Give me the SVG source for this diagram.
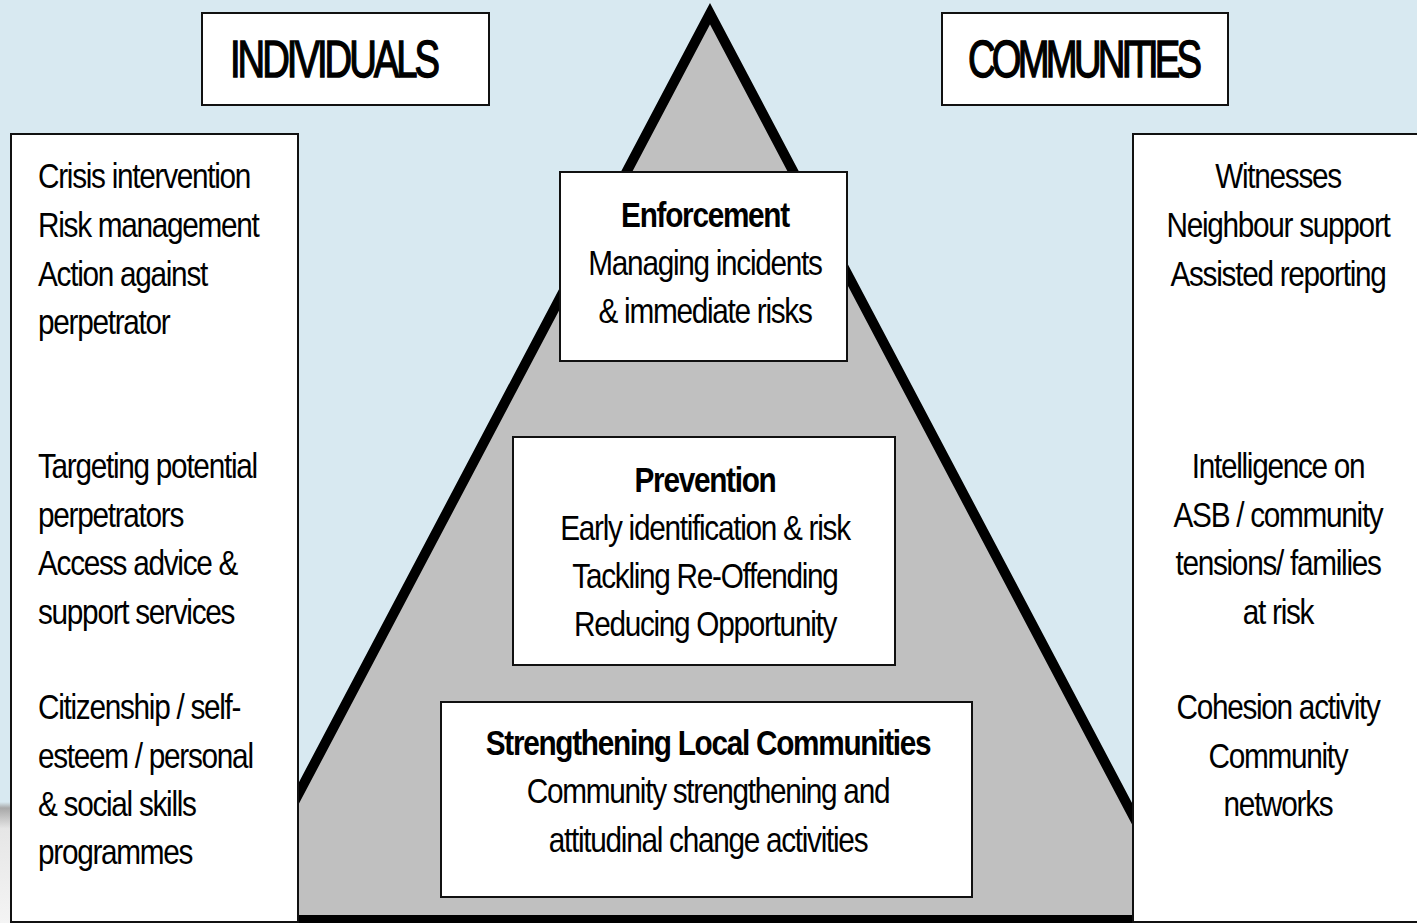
<svg xmlns="http://www.w3.org/2000/svg" width="1417" height="923" viewBox="0 0 1417 923">
  <defs>
    <linearGradient id="edgeSmear" x1="0" y1="0" x2="0" y2="1">
      <stop offset="0" stop-color="#d8e9f1"/>
      <stop offset="0.05" stop-color="#a8a8a8"/>
      <stop offset="0.22" stop-color="#e6e6e6"/>
      <stop offset="1" stop-color="#f4f4f4"/>
    </linearGradient>
    <style>
      .box { fill: #ffffff; stroke: #111111; stroke-width: 2; }
      .txt { font-family: "Liberation Sans", Arial, sans-serif; font-size: 35px; fill: #000000; letter-spacing: -1.5px; }
      .bold { font-weight: bold; }
      .mid { text-anchor: middle; }
      .title { font-family: "Liberation Sans", Arial, sans-serif; font-size: 51px; fill: #000000; stroke: #000000; stroke-width: 1.4px; }
    </style>
  </defs>

  <!-- backdrop -->
  <rect x="0" y="0" width="1417" height="923" fill="#d8e9f1"/>
  <rect x="0" y="802" width="12" height="121" fill="url(#edgeSmear)"/>

  <!-- pyramid -->
  <g id="pyramid">
    <polygon points="710,13.7 231.9,920 1188.1,920" fill="#c0c0c0" stroke="#000000" stroke-width="10" stroke-linejoin="miter" stroke-miterlimit="10"/>
  </g>

  <!-- connectors: none drawn in this figure -->
  <g id="connectors"></g>

  <!-- column headings (condensed via horizontal scale) -->
  <g id="individuals-title">
    <rect class="box" x="202" y="13" width="287" height="92"/>
    <g transform="translate(230 0) scale(0.75 1)">
      <text class="title" x="0" y="77" textLength="280" lengthAdjust="spacing">INDIVIDUALS</text>
    </g>
  </g>
  <g id="communities-title">
    <rect class="box" x="942" y="13" width="286" height="92"/>
    <g transform="translate(968 0) scale(0.75 1)">
      <text class="title" x="0" y="77" textLength="312" lengthAdjust="spacing">COMMUNITIES</text>
    </g>
  </g>

  <!-- left column: individuals -->
  <g id="individuals-list">
    <rect class="box" x="11" y="134" width="287" height="788"/>
    <g transform="translate(38 0) scale(0.85 1)">
      <text class="txt" x="0" y="188">Crisis intervention</text>
      <text class="txt" x="0" y="237">Risk management</text>
      <text class="txt" x="0" y="286">Action against</text>
      <text class="txt" x="0" y="334">perpetrator</text>
      <text class="txt" x="0" y="478">Targeting potential</text>
      <text class="txt" x="0" y="527">perpetrators</text>
      <text class="txt" x="0" y="575">Access advice &amp;</text>
      <text class="txt" x="0" y="624">support services</text>
      <text class="txt" x="0" y="719">Citizenship / self-</text>
      <text class="txt" x="0" y="768">esteem / personal</text>
      <text class="txt" x="0" y="816">&amp; social skills</text>
      <text class="txt" x="0" y="864">programmes</text>
    </g>
  </g>

  <!-- right column: communities -->
  <g id="communities-list">
    <rect class="box" x="1133" y="134" width="290" height="788"/>
    <g transform="translate(1278 0) scale(0.85 1)">
      <text class="txt mid" x="0" y="188">Witnesses</text>
      <text class="txt mid" x="0" y="237">Neighbour support</text>
      <text class="txt mid" x="0" y="286">Assisted reporting</text>
      <text class="txt mid" x="0" y="478">Intelligence on</text>
      <text class="txt mid" x="0" y="527">ASB / community</text>
      <text class="txt mid" x="0" y="575">tensions/ families</text>
      <text class="txt mid" x="0" y="624">at risk</text>
      <text class="txt mid" x="0" y="719">Cohesion activity</text>
      <text class="txt mid" x="0" y="768">Community</text>
      <text class="txt mid" x="0" y="816">networks</text>
    </g>
  </g>

  <!-- pyramid tiers -->
  <g id="enforcement">
    <rect class="box" x="560" y="172" width="287" height="189"/>
    <g transform="translate(705 0) scale(0.85 1)">
      <text class="txt mid bold" x="0" y="227">Enforcement</text>
      <text class="txt mid" x="0" y="275">Managing incidents</text>
      <text class="txt mid" x="0" y="323">&amp; immediate risks</text>
    </g>
  </g>

  <g id="prevention">
    <rect class="box" x="513" y="437" width="382" height="228"/>
    <g transform="translate(705 0) scale(0.85 1)">
      <text class="txt mid bold" x="0" y="492">Prevention</text>
      <text class="txt mid" x="0" y="540">Early identification &amp; risk</text>
      <text class="txt mid" x="0" y="588">Tackling Re-Offending</text>
      <text class="txt mid" x="0" y="636">Reducing Opportunity</text>
    </g>
  </g>

  <g id="strengthening">
    <rect class="box" x="441" y="702" width="531" height="195"/>
    <g transform="translate(708 0) scale(0.85 1)">
      <text class="txt mid bold" x="0" y="755">Strengthening Local Communities</text>
      <text class="txt mid" x="0" y="803">Community strengthening and</text>
      <text class="txt mid" x="0" y="852">attitudinal change activities</text>
    </g>
  </g>
</svg>
